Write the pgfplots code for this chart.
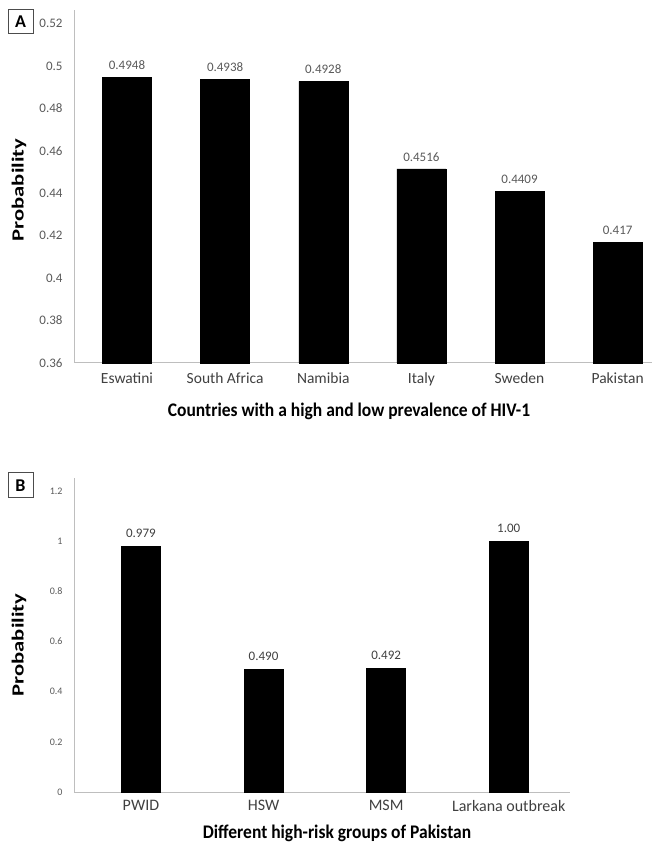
\documentclass[border=0pt]{standalone}
\usepackage{pgfplots}
\pgfplotsset{compat=1.18}
\usepackage{pgfplotstable}
\usepackage{graphicx}
\usepackage{fontspec}
\setmainfont{Carlito}
\definecolor{axgray}{RGB}{190,190,190}
\definecolor{tickgray}{RGB}{89,89,89}
\definecolor{catgray}{RGB}{64,64,64}
\pgfplotstableread{
x y lab
0 0.4948 0.4948
1 0.4938 0.4938
2 0.4928 0.4928
3 0.4516 0.4516
4 0.4409 0.4409
5 0.417 0.417
}\tableA
\pgfplotstableread{
x y lab
0 0.979 0.979
1 0.490 0.490
2 0.492 0.492
3 1.00 1.00
}\tableB
\begin{document}
\begin{tikzpicture}
\path[use as bounding box] (0pt,0pt) rectangle (652pt,846pt);
% Panel A
\begin{axis}[
  at={(74pt,483pt)}, anchor=south west,
  scale only axis, width=578pt, height=353pt,
  xmin=-0.54, xmax=5.35,
  ymin=0.36, ymax=0.5265,
  axis lines*=left,
  axis line style={axgray, line width=1pt},
  major tick length=0pt,
  xtick={0,1,2,3,4,5},
  xticklabels={Eswatini,South Africa,Namibia,Italy,Sweden,Pakistan},
  x tick label style={font=\fontsize{15.5}{18}\selectfont, text=catgray, yshift=-6pt},
  ytick={0.36,0.38,0.40,0.42,0.44,0.46,0.48,0.50,0.52},
  yticklabels={0.36,0.38,0.4,0.42,0.44,0.46,0.48,0.5,0.52},
  y tick label style={font=\fontsize{13}{16}\selectfont, text=tickgray, xshift=-8pt},
  clip=false,
]
\addplot[ybar, bar width=49pt, fill=black, draw=black,
  nodes near coords, point meta=explicit symbolic,
  every node near coord/.append style={font=\fontsize{13}{16}\selectfont, text=tickgray, yshift=4pt}]
  table[x=x, y=y, meta=lab] {\tableA};
\end{axis}
% Panel B
\begin{axis}[
  at={(74pt,54pt)}, anchor=south west,
  scale only axis, width=496pt, height=314pt,
  xmin=-0.546, xmax=3.5,
  ymin=0, ymax=1.252,
  axis lines*=left,
  axis line style={axgray, line width=1pt},
  major tick length=0pt,
  xtick={0,1,2,3},
  xticklabels={PWID,HSW,MSM,Larkana outbreak},
  x tick label style={font=\fontsize{16}{19}\selectfont, text=catgray, yshift=-5pt},
  ytick={0,0.2,0.4,0.6,0.8,1,1.2},
  yticklabels={0,0.2,0.4,0.6,0.8,1,1.2},
  y tick label style={font=\fontsize{10}{12}\selectfont, text=tickgray, xshift=-8pt},
  clip=false,
]
\addplot[ybar, bar width=39pt, fill=black, draw=black,
  nodes near coords, point meta=explicit symbolic,
  every node near coord/.append style={font=\fontsize{13}{16}\selectfont, text=catgray, yshift=5pt}]
  table[x=x, y=y, meta=lab] {\tableB};
\end{axis}
% Labels
\node[rotate=90, font=\bfseries\fontsize{17}{20}\selectfont] at (19pt,656pt) {\scalebox{1.33}[1]{Probability}};
\node[rotate=90, font=\bfseries\fontsize{17}{20}\selectfont] at (19pt,201pt) {\scalebox{1.33}[1]{Probability}};
\node[font=\bfseries\fontsize{17.5}{21}\selectfont] at (349pt,435pt) {\scalebox{1}[1.1]{Countries with a high and low prevalence of HIV-1}};
\node[font=\bfseries\fontsize{17.5}{21}\selectfont] at (337pt,13pt) {\scalebox{1}[1.1]{Different high-risk groups of Pakistan}};
\draw[black!70, line width=1pt] (8pt,812pt) rectangle (33pt,836pt);
\node[font=\bfseries\fontsize{18}{20}\selectfont] at (20.5pt,824pt) {A};
\draw[black!70, line width=1pt] (8pt,348pt) rectangle (33pt,373pt);
\node[font=\bfseries\fontsize{18}{20}\selectfont] at (20.5pt,360.5pt) {B};
\end{tikzpicture}
\end{document}
